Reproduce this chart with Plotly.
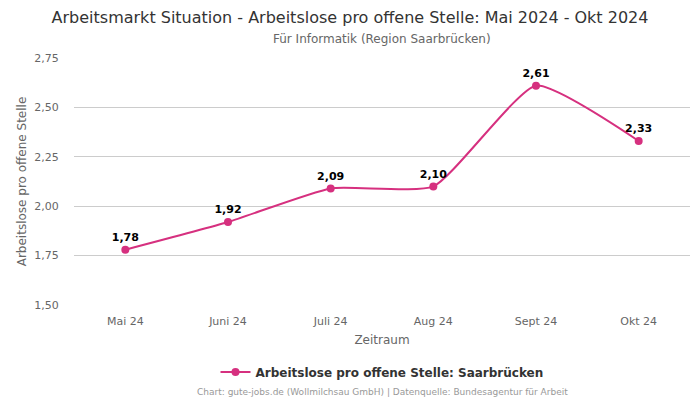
import plotly.graph_objects as go

months = ["Mai 24", "Juni 24", "Juli 24", "Aug 24", "Sept 24", "Okt 24"]
values = [1.78, 1.92, 2.09, 2.10, 2.61, 2.33]
labels = ["1,78", "1,92", "2,09", "2,10", "2,61", "2,33"]
y_ticks = [1.50, 1.75, 2.00, 2.25, 2.50, 2.75]
y_tick_labels = ["1,50", "1,75", "2,00", "2,25", "2,50", "2,75"]

color = "#d6307f"
font = "DejaVu Sans"

fig = go.Figure()
fig.add_trace(go.Scatter(
    x=months, y=values, mode="lines+markers+text",
    line=dict(color=color, width=2, shape="spline", smoothing=0.5),
    marker=dict(color=color, size=8),
    text=labels, textposition="top center",
    textfont=dict(family=font, size=11, color="#000000", weight="bold"),
    name="Arbeitslose pro offene Stelle: Saarbrücken",
    cliponaxis=False,
))

fig.update_layout(
    width=700, height=400,
    margin=dict(l=74, r=10, t=58, b=95),
    paper_bgcolor="white", plot_bgcolor="white",
    font=dict(family=font, color="#666666"),
    title=dict(
        text="Arbeitsmarkt Situation - Arbeitslose pro offene Stelle: Mai 2024 - Okt 2024",
        x=0.5, xanchor="center", y=0.9575, yanchor="middle",
        font=dict(family=font, size=16, color="#333333"),
    ),
    showlegend=True,
    legend=dict(
        orientation="h", x=0.5, xanchor="center", y=-0.271, yanchor="middle",
        font=dict(family=font, size=12, color="#333333", weight="bold"),
    ),
    xaxis=dict(
        title=dict(text="Zeitraum", font=dict(family=font, size=12, color="#666666"), standoff=8),
        tickfont=dict(family=font, size=11, color="#666666"),
        range=[-0.5, 5.5],
        showgrid=False, showline=False, ticks="outside", ticklen=6, tickcolor="rgba(0,0,0,0)",
    ),
    yaxis=dict(
        title=dict(text="Arbeitslose pro offene Stelle", font=dict(family=font, size=12, color="#666666"), standoff=5),
        range=[1.50, 2.75], tickvals=y_ticks, ticktext=y_tick_labels,
        tickfont=dict(family=font, size=11, color="#666666"),
        showgrid=True, gridcolor="#cccccc", gridwidth=1,
        zeroline=False, showline=False, ticks="outside", ticklen=12, tickcolor="rgba(0,0,0,0)",
    ),
)

fig.add_annotation(
    text="Für Informatik (Region Saarbrücken)", xref="paper", yref="paper",
    x=0.5, y=1.0, yshift=19, xanchor="center", yanchor="middle", showarrow=False,
    font=dict(family=font, size=12, color="#666666"),
)
fig.add_annotation(
    text="Chart: gute-jobs.de (Wollmilchsau GmbH) | Datenquelle: Bundesagentur für Arbeit",
    xref="paper", yref="paper", x=0.5, y=-0.352, yanchor="middle", xanchor="center",
    showarrow=False, font=dict(family=font, size=9, color="#999999"),
)

fig.write_html(
    "out.html",
    config={"displayModeBar": False},
    post_script="document.body.style.margin='0';document.body.style.overflow='hidden';",
)
